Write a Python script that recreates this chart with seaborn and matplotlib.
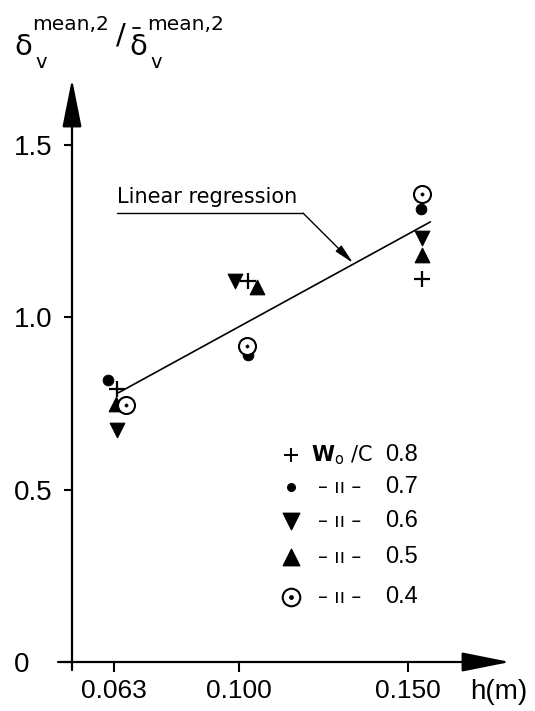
import matplotlib
matplotlib.use("Agg")
import matplotlib.pyplot as plt
from matplotlib.lines import Line2D
import pandas as pd
import seaborn as sns

sns.set_style("white")
plt.rcParams['font.family'] = ['DejaVu Sans']
plt.rcParams['mathtext.fontset'] = 'dejavusans'
plt.rcParams['text.color'] = 'black'
plt.rcParams['xtick.color'] = 'black'
plt.rcParams['ytick.color'] = 'black'

# Data (h in m, ratio of delta_v mean values)
wc_values = ['0.8', '0.7', '0.6', '0.5', '0.4']
plus_h = [0.0639, 0.1026, 0.1542]
plus_r = [0.793, 1.105, 1.112]
dot_h = [0.0611, 0.1025, 0.1539]
dot_r = [0.818, 0.891, 1.315]
down_h = [0.0639, 0.0988, 0.1542]
down_r = [0.674, 1.105, 1.231]
up_h = [0.0634, 0.1053, 0.1542]
up_r = [0.750, 1.088, 1.182]
circ_h = [0.0666, 0.1022, 0.1540]
circ_r = [0.747, 0.917, 1.358]

# linear regression line end points
reg_h = [0.0642, 0.1566]
reg_r = [0.781, 1.277]

x_ticks = [0.063, 0.100, 0.150]
x_tick_labels = ['0.063', '0.100', '0.150']
y_ticks = [0, 0.5, 1.0, 1.5]
y_tick_labels = ['0', '0.5', '1.0', '1.5']

df = pd.concat([
    pd.DataFrame({'h': plus_h, 'ratio': plus_r, 'wc': '0.8'}),
    pd.DataFrame({'h': dot_h, 'ratio': dot_r, 'wc': '0.7'}),
    pd.DataFrame({'h': down_h, 'ratio': down_r, 'wc': '0.6'}),
    pd.DataFrame({'h': up_h, 'ratio': up_r, 'wc': '0.5'}),
    pd.DataFrame({'h': circ_h, 'ratio': circ_r, 'wc': '0.4'}),
], ignore_index=True)

fig = plt.figure(figsize=(5.35, 7.11), dpi=100)
ax = fig.add_axes([72 / 535, 49 / 711, 433 / 535, 579 / 711])
ax.set_xlim(0.0505, 0.1787)
ax.set_ylim(0, 1.680)
for s in ax.spines.values():
    s.set_visible(False)

# axes drawn as arrows
arrow = dict(arrowstyle='-|>,head_length=3.0,head_width=0.6', mutation_scale=10,
             color='black', lw=1.6, shrinkA=0, shrinkB=0)
ax.annotate('', xy=(0, 1 + 4 / 579), xytext=(0, -8 / 579), xycoords='axes fraction',
            arrowprops=arrow, annotation_clip=False)
ax.annotate('', xy=(1 + 5 / 433, 0), xytext=(-14 / 433, 0), xycoords='axes fraction',
            arrowprops=arrow, annotation_clip=False)

# markers per W0/C group
style = {
    '0.8': dict(marker='+', s=120, color='black', linewidth=1.6),
    '0.7': dict(marker='o', s=60, color='black', edgecolor='black'),
    '0.6': dict(marker='v', s=110, color='black', edgecolor='black'),
    '0.5': dict(marker='^', s=110, color='black', edgecolor='black'),
    '0.4': dict(marker='o', s=150, color='white', edgecolor='black', linewidth=1.5),
}
for wc in wc_values:
    sub = df[df['wc'] == wc]
    sns.scatterplot(data=sub, x='h', y='ratio', ax=ax, zorder=3, legend=False, **style[wc])
    if wc == '0.4':
        sns.scatterplot(data=sub, x='h', y='ratio', ax=ax, marker='o', s=6,
                        color='black', edgecolor='black', zorder=4, legend=False)

sns.lineplot(x=reg_h, y=reg_r, ax=ax, color='black', linewidth=1.2, zorder=2)

# annotation for the regression line
ax.text(0.0638, 1.332, 'Linear regression', fontsize=15, ha='left', va='baseline')
ax.plot([0.0638, 0.1189], [1.3026, 1.3026], color='black', linewidth=1.0)
ax.annotate('', xy=(0.1337, 1.158), xytext=(0.1189, 1.3026),
            arrowprops=dict(arrowstyle='-|>,head_length=1.2,head_width=0.25',
                            mutation_scale=10, color='black', lw=1.0,
                            shrinkA=0, shrinkB=0))

# ticks
num_font = ['Liberation Sans', 'DejaVu Sans']
ax.set_xticks(x_ticks)
ax.set_xticklabels(x_tick_labels, fontsize=19, family=num_font)
ax.set_yticks(y_ticks)
ax.set_yticklabels(y_tick_labels, fontsize=20, family=num_font, ha='left')
ax.tick_params(axis='x', direction='out', length=7, width=1.5, pad=5, bottom=True)
ax.tick_params(axis='y', direction='out', length=6, width=1.5, pad=36, left=True)
ax.set_xlabel('')
ax.set_ylabel('')

ax.text(0.919, -0.052, 'h(m)', transform=ax.transAxes, fontsize=20,
        family=num_font, ha='left', va='center')


# y axis title, built from pieces (pixel positions from the top-left corner)
def title_piece(px, py, txt, size):
    fig.text(px / 535, 1 - py / 711, txt, fontsize=size, ha='left', va='baseline')


title_piece(14, 55, '\u03b4', 21)
title_piece(35, 68, 'v', 14)
title_piece(32, 30, 'mean,2', 14.5)
title_piece(116, 44, '/', 21)
title_piece(129, 55, '\u03b4', 21)
fig.add_artist(Line2D([133 / 535, 140 / 535], [1 - 28 / 711, 1 - 28 / 711],
                      color='black', linewidth=1.3))
title_piece(150, 68, 'v', 14)
title_piece(147, 30, 'mean,2', 14.5)

# legend block
leg_y = [0.3575, 0.302, 0.2435, 0.181, 0.112]
leg_style = {
    '0.8': dict(marker='+', s=110, color='black', linewidth=1.4),
    '0.7': dict(marker='o', s=30, color='black', edgecolor='black'),
    '0.6': dict(marker='v', s=140, color='black', edgecolor='black'),
    '0.5': dict(marker='^', s=140, color='black', edgecolor='black'),
    '0.4': dict(marker='o', s=160, color='white', edgecolor='black', linewidth=1.5),
}
for wc, yy in zip(wc_values, leg_y):
    ax.scatter([0.506], [yy], transform=ax.transAxes, clip_on=False, zorder=3, **leg_style[wc])
    if wc == '0.4':
        ax.scatter([0.506], [yy], transform=ax.transAxes, marker='o', s=6,
                   color='black', zorder=4)
    if wc == '0.8':
        ax.text(0.552, yy, r'$\mathbf{W}_{\mathrm{o}}$ /C', transform=ax.transAxes,
                fontsize=15, ha='left', va='center')
    else:
        ax.text(0.619, yy, '\u2013 \u0131\u0131 \u2013', transform=ax.transAxes,
                fontsize=14, ha='center', va='center')
    ax.text(0.723, yy, wc, transform=ax.transAxes, fontsize=17, family=num_font,
            ha='left', va='center')

fig.savefig('out.png', dpi=100)
